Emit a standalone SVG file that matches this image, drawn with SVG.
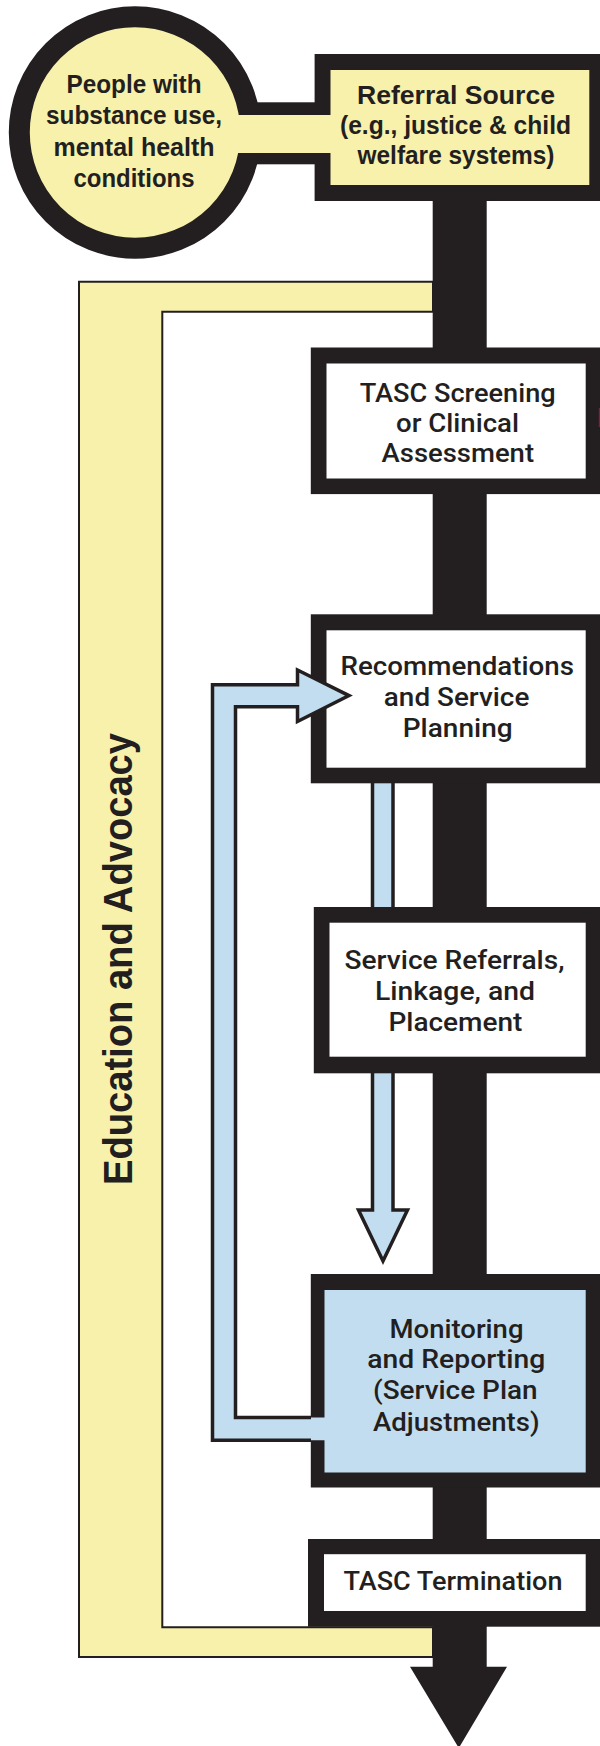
<svg xmlns="http://www.w3.org/2000/svg" width="600" height="1746" viewBox="0 0 600 1746">
<defs>
<style>
.blk{fill:#231f20}
.yel{fill:#f8f1ac}
.wht{fill:#ffffff}
.blu{fill:#c2ddef}
.out{fill:none;stroke:#231f20;stroke-width:3.5;stroke-linejoin:miter}
.tb{font-family:"Liberation Sans","Arial",sans-serif;font-weight:bold;font-size:25px;fill:#231f20;text-anchor:middle}
.tm{font-family:"Roboto","Liberation Sans",sans-serif;font-weight:500;font-size:25px;fill:#231f20;text-anchor:middle}
.tv{font-family:"Liberation Sans","Arial",sans-serif;font-weight:bold;font-size:40px;fill:#231f20;text-anchor:middle}
</style>
</defs>
<rect width="600" height="1746" fill="#ffffff"/>

<g id="education-advocacy">
<path d="M433 281.7 H79 V1657 H433 V1627.3 H162.3 V311.7 H433 Z" class="yel" stroke="#231f20" stroke-width="2"/>
<text class="tv" transform="translate(132,959) rotate(-90)" textLength="452" lengthAdjust="spacingAndGlyphs">Education and Advocacy</text>
</g>

<g id="connectors">
<rect class="blk" x="200" y="102.3" width="120" height="62"/>
<rect class="blk" x="432.7" y="190" width="54" height="1480"/>
<polygon class="blk" points="410,1666.7 507,1666.7 458.8,1748"/>
<path class="blu" d="M372.5 775 V1210 H358.5 L383 1261 L407.5 1210 H393 V775 Z" stroke="#231f20" stroke-width="3.5"/>
</g>

<g id="people">
<circle cx="135" cy="132.5" r="115.7" class="yel" stroke="#231f20" stroke-width="21"/>
</g>

<g id="referral-source">
<rect class="blk" x="314.6" y="54" width="292" height="147"/>
<rect class="yel" x="330.5" y="70" width="258.8" height="115"/>
</g>

<rect class="yel" x="220" y="115" width="115" height="38"/>

<g id="people-text">
<text class="tb" x="134" y="92.5" textLength="135" lengthAdjust="spacingAndGlyphs">People with</text>
<text class="tb" x="134" y="124" textLength="176" lengthAdjust="spacingAndGlyphs">substance use,</text>
<text class="tb" x="134" y="155.5" textLength="161" lengthAdjust="spacingAndGlyphs">mental health</text>
<text class="tb" x="134" y="187" textLength="121" lengthAdjust="spacingAndGlyphs">conditions</text>
</g>

<g id="referral-text">
<text class="tb" x="456" y="104" font-size="26" textLength="198" lengthAdjust="spacingAndGlyphs">Referral Source</text>
<text class="tb" x="455.5" y="133.5" font-size="26" textLength="231" lengthAdjust="spacingAndGlyphs">(e.g., justice &amp; child</text>
<text class="tb" x="456" y="164" font-size="26" textLength="197" lengthAdjust="spacingAndGlyphs">welfare systems)</text>
</g>

<g id="tasc-screening">
<rect class="blk" x="310.8" y="347.5" width="295" height="146.6"/>
<rect class="wht" x="326.5" y="363.5" width="259.2" height="115"/>
<text class="tm" x="457.7" y="401.7" textLength="196" lengthAdjust="spacingAndGlyphs">TASC Screening</text>
<text class="tm" x="457.5" y="431.7" textLength="123" lengthAdjust="spacingAndGlyphs">or Clinical</text>
<text class="tm" x="457.8" y="462.2" textLength="152.5" lengthAdjust="spacingAndGlyphs">Assessment</text>
</g>

<g id="recommendations">
<rect class="blk" x="310.8" y="614.3" width="295" height="169"/>
<rect class="wht" x="326.5" y="630.3" width="259.2" height="137.4"/>
<text class="tm" x="457.3" y="675.3" textLength="233.5" lengthAdjust="spacingAndGlyphs">Recommendations</text>
<text class="tm" x="456.6" y="706" textLength="145.5" lengthAdjust="spacingAndGlyphs">and Service</text>
<text class="tm" x="457.7" y="736.7" textLength="110" lengthAdjust="spacingAndGlyphs">Planning</text>
</g>

<g id="service-referrals">
<rect class="blk" x="313.8" y="907" width="292" height="166.3"/>
<rect class="wht" x="329.5" y="922.7" width="256.2" height="134"/>
<text class="tm" x="454.5" y="969.3" textLength="220" lengthAdjust="spacingAndGlyphs">Service Referrals,</text>
<text class="tm" x="455" y="1000" textLength="160" lengthAdjust="spacingAndGlyphs">Linkage, and</text>
<text class="tm" x="455.4" y="1030.7" textLength="134" lengthAdjust="spacingAndGlyphs">Placement</text>
</g>

<g id="monitoring">
<rect class="blk" x="310.8" y="1274" width="295" height="213.5"/>
<rect class="blu" x="324.5" y="1290" width="261.2" height="182.5"/>
</g>

<g id="termination">
<rect class="blk" x="308" y="1539" width="298" height="87.7"/>
<rect class="wht" x="324" y="1554.2" width="261.7" height="56.8"/>
<text class="tm" x="453" y="1590" textLength="219" lengthAdjust="spacingAndGlyphs">TASC Termination</text>
</g>

<g id="feedback-arrow">
<path class="blu" d="M326 1440.3 H212.5 V684.8 H297.5 V670 L349 695.6 L297.5 721.5 V706.8 H235.5 V1417.5 H326 Z"/>
<path class="out" d="M311 1440.3 H212.5 V684.8 H297.5 V670 L349 695.6 L297.5 721.5 V706.8 H235.5 V1417.5 H311"/>
</g>

<g id="monitoring-text">
<text class="tm" x="456.5" y="1338.3" textLength="134" lengthAdjust="spacingAndGlyphs">Monitoring</text>
<text class="tm" x="456.3" y="1368.3" textLength="178" lengthAdjust="spacingAndGlyphs">and Reporting</text>
<text class="tm" x="455.3" y="1399.3" textLength="164.6" lengthAdjust="spacingAndGlyphs">(Service Plan</text>
<text class="tm" x="456.3" y="1431" textLength="166.5" lengthAdjust="spacingAndGlyphs">Adjustments)</text>
</g>

<rect x="598.8" y="408" width="1.2" height="19" fill="#7a2040"/>
</svg>
